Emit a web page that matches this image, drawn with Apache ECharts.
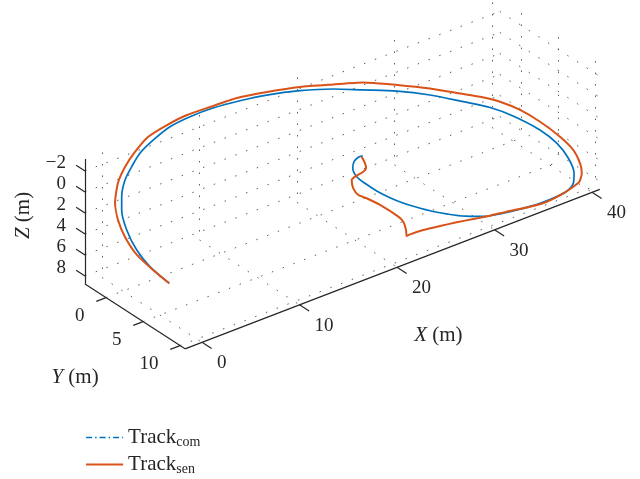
<!DOCTYPE html>
<html>
<head>
<meta charset="utf-8">
<title>Track</title>
<script src="https://cdn.jsdelivr.net/npm/echarts@6/dist/echarts.min.js"></script>
<style>
html, body { margin: 0; padding: 0; background: #fff; }
#chart { width: 640px; height: 479px; }
</style>
</head>
<body>
<div id="chart"></div>
<script>
//刻度
var xTicks = [0, 10, 20, 30, 40];
var yTicks = [0, 5, 10];
var zTicks = [-2, 0, 2, 4, 6, 8];
var zTickLabels = ['\u22122', '0', '2', '4', '6', '8'];
//坐标范围
var xLim = [-1.74, 40.8];
var yLim = [-2.84, 10.68];
var zLim = [-3.14, 8.76];

//计算轨迹 Track_com
var comX = [0.13, -1.13, -1.83, -2.13, -1.97, -1.56, -0.74, 0.29, 1.46, 3.10, 5.04, 7.19, 9.57, 12.27, 14.90, 18.10, 21.18, 23.90, 26.99, 29.90, 32.73, 35.03, 36.88, 38.92, 40.05, 40.65, 40.71, 40.33, 39.67, 38.40, 36.66, 34.63, 32.65, 30.92, 29.37, 27.87, 26.49, 25.15, 24.08, 23.05, 22.04, 21.20, 20.64, 20.54, 20.86, 21.39, 21.84];
var comY = [6.08, 5.13, 4.27, 3.31, 2.42, 1.88, 1.25, 0.80, 0.37, 0.02, -0.29, -0.41, -0.44, -0.36, -0.21, 0.08, 0.48, 0.94, 1.47, 2.09, 2.83, 3.45, 4.12, 5.07, 5.85, 6.63, 7.32, 7.72, 7.92, 8.03, 8.06, 8.02, 7.93, 7.78, 7.53, 7.20, 6.86, 6.46, 6.11, 5.71, 5.25, 4.77, 4.39, 3.99, 3.74, 3.62, 3.62];
var comZ = [5.29, 3.68, 2.25, 0.67, -0.77, -1.65, -2.65, -3.35, -4.01, -4.53, -4.96, -5.09, -5.05, -4.82, -4.49, -3.90, -3.14, -2.29, -1.32, -0.19, 1.12, 2.21, 3.37, 5.00, 6.31, 7.60, 8.74, 9.37, 9.68, 9.81, 9.81, 9.67, 9.45, 9.14, 8.68, 8.10, 7.48, 6.78, 6.18, 5.49, 4.70, 3.89, 3.24, 2.58, 2.18, 2.00, 2.02];
//传感器轨迹 Track_sen
var senX = [0.13, -0.95, -1.96, -2.50, -2.62, -2.37, -1.48, -0.34, 1.04, 2.70, 4.82, 6.96, 9.32, 12.08, 15.02, 18.21, 21.32, 24.13, 27.18, 30.10, 32.70, 34.44, 36.12, 37.71, 39.18, 40.55, 41.36, 41.57, 41.42, 40.93, 40.23, 39.11, 37.32, 35.63, 33.34, 31.68, 30.05, 28.42, 26.77, 25.11, 23.76, 23.40, 23.52, 23.53, 23.23, 21.91, 20.89, 20.23, 19.97, 20.08, 20.49, 21.40, 21.76, 21.82, 21.72];
var senY = [6.08, 5.31, 4.47, 3.57, 2.78, 2.05, 1.27, 0.72, 0.25, -0.18, -0.40, -0.52, -0.52, -0.51, -0.33, -0.07, 0.30, 0.64, 1.22, 1.83, 2.46, 2.87, 3.36, 3.98, 4.74, 5.63, 6.36, 7.00, 7.43, 7.74, 7.85, 7.98, 8.09, 8.06, 7.93, 7.86, 7.76, 7.66, 7.57, 7.50, 7.49, 7.51, 7.26, 6.88, 6.60, 5.87, 5.41, 5.16, 4.81, 4.45, 4.36, 4.28, 4.18, 3.96, 3.64];
var senZ = [5.29, 3.99, 2.58, 1.08, -0.21, -1.41, -2.64, -3.51, -4.23, -4.87, -5.15, -5.28, -5.20, -5.08, -4.68, -4.14, -3.44, -2.78, -1.72, -0.62, 0.50, 1.24, 2.09, 3.16, 4.46, 5.97, 7.19, 8.24, 8.94, 9.43, 9.60, 9.77, 9.88, 9.77, 9.48, 9.30, 9.08, 8.86, 8.66, 8.48, 8.42, 8.44, 8.03, 7.41, 6.95, 5.70, 4.91, 4.48, 3.91, 3.32, 3.19, 3.08, 2.93, 2.58, 2.06];

//视角：(xLim[0], yLim[0], zLim[0]) 所在像素及各轴单位向量
var view = {
    origin: [85, 159],
    ux: [9.75, -3.75],
    uy: [7.4, 4.8],
    uz: [0, 10.5]
};
function proj(x, y, z) {
    var dx = x - xLim[0], dy = y - yLim[0], dz = z - zLim[0];
    return [
        view.origin[0] + dx * view.ux[0] + dy * view.uy[0] + dz * view.uz[0],
        view.origin[1] + dx * view.ux[1] + dy * view.uy[1] + dz * view.uz[1]
    ];
}
function track(xs, ys, zs) {
    var out = [];
    for (var i = 0; i < xs.length; i++) {
        out.push(proj(xs[i], ys[i], zs[i]));
    }
    return out;
}
function seg(a, b) {
    return { coords: [proj(a[0], a[1], a[2]), proj(b[0], b[1], b[2])] };
}

//网格线（三个背面）
var gridSegs = [];
xTicks.forEach(function (x) {
    gridSegs.push(seg([x, yLim[0], zLim[1]], [x, yLim[1], zLim[1]]));
    gridSegs.push(seg([x, yLim[0], zLim[0]], [x, yLim[0], zLim[1]]));
});
yTicks.forEach(function (y) {
    gridSegs.push(seg([xLim[0], y, zLim[1]], [xLim[1], y, zLim[1]]));
    gridSegs.push(seg([xLim[1], y, zLim[0]], [xLim[1], y, zLim[1]]));
});
zTicks.forEach(function (z) {
    gridSegs.push(seg([xLim[0], yLim[0], z], [xLim[1], yLim[0], z]));
    gridSegs.push(seg([xLim[1], yLim[0], z], [xLim[1], yLim[1], z]));
});

//坐标轴及刻度线
var axisSegs = [
    seg([xLim[0], yLim[0], zLim[0]], [xLim[0], yLim[0], zLim[1]]),
    seg([xLim[0], yLim[0], zLim[1]], [xLim[0], yLim[1], zLim[1]]),
    seg([xLim[0], yLim[1], zLim[1]], [xLim[1], yLim[1], zLim[1]])
];
xTicks.forEach(function (x) {
    axisSegs.push(seg([x, yLim[1], zLim[1]], [x, yLim[1] + 1.3, zLim[1]]));
});
yTicks.forEach(function (y) {
    axisSegs.push(seg([xLim[0], y, zLim[1]], [xLim[0] - 1.0, y, zLim[1]]));
});
zTicks.forEach(function (z) {
    axisSegs.push(seg([xLim[0], yLim[0], z], [xLim[0], yLim[0] - 1.2, z]));
});

var font = 'Liberation Serif';
var ink = '#262626';

var chart = echarts.init(document.getElementById('chart'));
var option = {
    animation: false,
    backgroundColor: '#fff',
    grid: { left: 0, right: 0, top: 0, bottom: 0 },
    xAxis: { type: 'value', min: 0, max: 640, show: false },
    yAxis: { type: 'value', min: 0, max: 479, inverse: true, show: false },
    legend: {
        orient: 'vertical',
        left: 85,
        top: 427,
        padding: 0,
        itemGap: 5,
        itemWidth: 37,
        itemHeight: 14,
        itemStyle: { opacity: 0 },
        data: [
            { name: 'Track_com', lineStyle: { type: [6, 3, 1.5, 3], width: 1.6 } },
            { name: 'Track_sen', lineStyle: { width: 2.2 } }
        ],
        formatter: function (name) {
            return '{m|Track}{s|' + name.split('_')[1] + '}';
        },
        textStyle: {
            color: ink,
            fontFamily: font,
            fontSize: 21,
            rich: {
                m: { fontFamily: font, fontSize: 21, color: ink },
                s: { fontFamily: font, fontSize: 14, color: ink, padding: [9, 0, 0, 0] }
            }
        }
    },
    series: [
        {
            name: 'grid',
            type: 'lines',
            coordinateSystem: 'cartesian2d',
            silent: true,
            lineStyle: { color: '#333', width: 1, type: [1.5, 10], opacity: 0.8 },
            data: gridSegs
        },
        {
            name: 'axes',
            type: 'lines',
            coordinateSystem: 'cartesian2d',
            silent: true,
            lineStyle: { color: ink, width: 1.2, opacity: 1 },
            data: axisSegs
        },
        {
            name: 'Track_com',
            type: 'line',
            symbol: 'none',
            smooth: 0.3,
            color: '#0072BD',
            lineStyle: { width: 1.7 },
            data: track(comX, comY, comZ)
        },
        {
            name: 'Track_sen',
            type: 'line',
            symbol: 'none',
            smooth: 0.2,
            color: '#D95319',
            lineStyle: { width: 2 },
            data: track(senX, senY, senZ)
        }
    ]
};
chart.setOption(option);

//刻度文字及轴标题
function px(p) {
    return chart.convertToPixel('grid', p);
}
var texts = [];
function label(p, dx, dy, text, align, extra) {
    var q = px(p);
    var el = {
        type: 'text',
        x: q[0] + dx,
        y: q[1] + dy,
        silent: true,
        style: {
            text: text,
            fontFamily: font,
            fontSize: 19,
            fill: ink,
            align: align,
            verticalAlign: 'middle'
        }
    };
    if (extra) {
        for (var k in extra.style || {}) el.style[k] = extra.style[k];
        if (extra.rotation) el.rotation = extra.rotation;
    }
    texts.push(el);
}
xTicks.forEach(function (x) {
    label(proj(x, yLim[1], zLim[1]), 15, 21, String(x), 'left');
});
yTicks.forEach(function (y) {
    label(proj(xLim[0], y, zLim[1]), -21.5, 18.5, String(y), 'right');
});
zTicks.forEach(function (z, i) {
    label(proj(xLim[0], yLim[0], z), -19, -7.5, zTickLabels[i], 'right');
});
var titleRich = {
    i: { fontFamily: font, fontSize: 21, fontStyle: 'italic', fill: ink },
    n: { fontFamily: font, fontSize: 21, fill: ink }
};
label(proj(xLim[1] * 0.5, yLim[1], zLim[1]), 37.5, 70, '{i|X}{n| (m)}', 'center', { style: { rich: titleRich, fontSize: 21 } });
label(proj(xLim[0], yLim[1] * 0.5, zLim[1]), -70.5, 54, '{i|Y}{n| (m)}', 'center', { style: { rich: titleRich, fontSize: 21 } });
label(proj(xLim[0], yLim[0], (zLim[0] + zLim[1]) * 0.5), -62, -6, '{i|Z}{n| (m)}', 'center', { style: { rich: titleRich, fontSize: 21 }, rotation: Math.PI / 2 });

chart.setOption({ graphic: { elements: texts } });
</script>
</body>
</html>
